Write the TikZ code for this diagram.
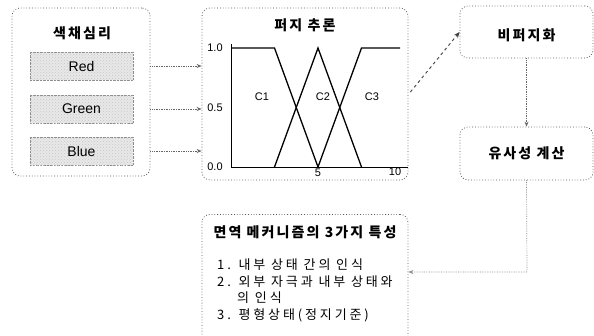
\documentclass[tikz,border=0pt]{standalone}
\usepackage{fontspec}
\setmainfont{Liberation Sans}
\newfontfamily\krt[LetterSpace=15]{Noto Sans CJK KR}
\newfontfamily\krs[LetterSpace=22]{Noto Sans CJK KR}
\usetikzlibrary{arrows.meta,patterns}
\begin{document}
\begin{tikzpicture}[x=1pt,y=-1pt,
  box/.style={draw=black!65, dotted, line width=0.8pt, rounded corners=8pt},
  inbox/.style={draw=black!45, densely dotted, fill=black!9, postaction={pattern=crosshatch dots, pattern color=black!22}, minimum width=103pt, minimum height=28pt, font=\fontsize{14}{16}\selectfont},
  title/.style={font=\krt\bfseries\fontsize{14}{16}\selectfont},
  item/.style={anchor=west, font=\krs\fontsize{13}{15}\selectfont, inner sep=0pt},
  conn/.style={draw=black!60, densely dotted, line width=0.7pt, -{Stealth[length=5pt,width=4pt]}},
  curve/.style={line width=1.3pt, black},
  lab/.style={font=\fontsize{11}{13}\selectfont}]
\useasboundingbox (0,0) rectangle (594,335);
% left box
\node[box, minimum width=138pt, minimum height=168pt] (s1) at (81,92) {};
\node[title] (t1) at (82,33) {색채심리};
\node[inbox] (red) at (81.5,66) {Red};
\node[inbox] (green) at (81.5,109) {Green};
\node[inbox] (blue) at (81.5,151) {Blue};
% fuzzy box
\node[box, minimum width=206pt, minimum height=172pt] (fz) at (305,94) {};
\node[title] (t2) at (305,25) {퍼지 추론};
% plot
\draw[line width=1pt] (231,44) -- (231,167) -- (408,167);
\draw[curve] (231,48) -- (274.5,48) -- (318,167);
\draw[curve] (274.5,167) -- (318,48) -- (361.5,167);
\draw[curve] (318,167) -- (361.5,48) -- (400,48);
\node[lab] (y1) at (215,48) {1.0};
\node[lab] (y5) at (215,108) {0.5};
\node[lab] (y0) at (215,167) {0.0};
\node[lab] (x5) at (318,173) {5};
\node[lab] (x10) at (395,172) {10};
\node[lab] (c1) at (262,97) {C1};
\node[lab] (c2) at (323,97) {C2};
\node[lab] (c3) at (372,97) {C3};
% right boxes
\node[box, minimum width=133pt, minimum height=52pt] (b1) at (526.5,32) {};
\node[title] (t3) at (526.5,35) {비퍼지화};
\node[box, minimum width=133pt, minimum height=53pt] (b2) at (526.5,153.5) {};
\node[title] (t4) at (526.5,153) {유사성 계산};
% bottom box
\node[box, minimum width=206pt, minimum height=136pt, anchor=north] (im) at (305,214) {};
\node[title] (t5) at (305,232) {면역 메커니즘의 3가지 특성};
\node[item] (i1) at (217,265) {1. 내부 상태 간의 인식};
\node[item] (i2) at (217,282) {2. 외부 자극과 내부 상태와};
\node[item] (i2b) at (237,298) {의 인식};
\node[item] (i3) at (217,315) {3. 평형상태(정지기준)};
% connectors
\draw[conn] (s1.east |- red.center) -- (fz.west |- red.center);
\draw[conn] (s1.east |- green.center) -- (fz.west |- green.center);
\draw[conn] (s1.east |- blue.center) -- (fz.west |- blue.center);
\draw[draw=black!75, dashed, line width=0.9pt, -{Stealth[length=6pt,width=5pt]}] (fz.east) ++(2,-2) -- (b1.west);
\draw[conn] (b1.south) -- (b2.north);
\coordinate (k) at (527,272);
\draw[conn, draw=black!45] (b2.south) -- (k) -- (im.east |- k);
\end{tikzpicture}
\end{document}
